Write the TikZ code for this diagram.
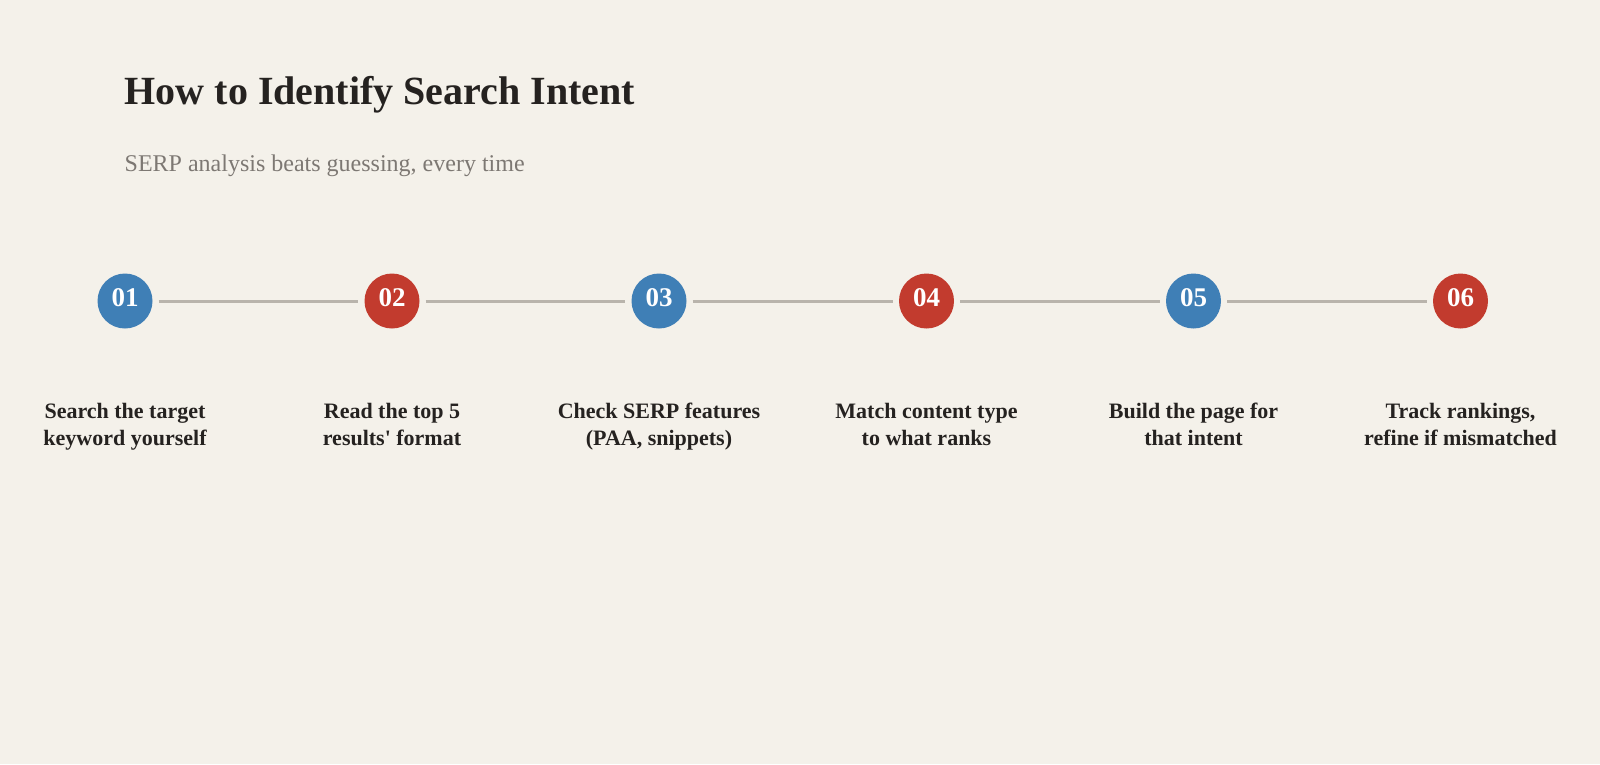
\documentclass[tikz,border=0pt]{standalone}
\usepackage{fontspec}
\setmainfont{Liberation Serif}
\definecolor{paper}{HTML}{F4F1EA}
\definecolor{ink}{HTML}{252220}
\definecolor{muted}{HTML}{7D7873}
\definecolor{stepblue}{HTML}{3F7FB6}
\definecolor{stepred}{HTML}{C23B2E}
\definecolor{rail}{HTML}{B9B4AC}
\tikzset{
  dot/.style={circle,minimum size=55pt,inner sep=0pt,text=white,
    text height=18pt,text depth=6.6pt,
    font=\fontsize{27}{27}\selectfont\bfseries},
  bluedot/.style={dot,fill=stepblue},
  reddot/.style={dot,fill=stepred},
  caption/.style={align=center,inner sep=0pt,anchor=base,text=ink,
    font=\fontsize{22}{27}\selectfont\bfseries},
  link/.style={draw=rail,line width=3pt,shorten <=6pt,shorten >=6pt}
}
\begin{document}
\begin{tikzpicture}[x=1pt,y=-1pt]
  \fill[paper] (0,0) rectangle (1600,764);
  \useasboundingbox (0,0) rectangle (1600,764);
  \node[anchor=base west,inner sep=0pt,text=ink,
    font=\fontsize{40}{40}\selectfont\bfseries] (title) at (124.5,104)
    {How to Identify Search Intent};
  \node[anchor=base west,inner sep=0pt,text=muted,
    font=\fontsize{24}{24}\selectfont] (subtitle) at (124.5,171.5)
    {SERP analysis beats guessing, every time};
  \draw
    (125,301) node[bluedot] (s1){01}
    (392,301) node[reddot] (s2){02}
    (659,301) node[bluedot] (s3){03}
    (926.5,301) node[reddot] (s4){04}
    (1193.5,301) node[bluedot] (s5){05}
    (1460.5,301) node[reddot] (s6){06};
  \begin{scope}[link]
    \draw (s1) to (s2);
    \draw (s2) to (s3);
    \draw (s3) to (s4);
    \draw (s4) to (s5);
    \draw (s5) to (s6);
  \end{scope}
  % captions: anchor sits on the second line's baseline
  \node[caption] (c1) at (125,445) {Search the target\\keyword yourself};
  \node[caption] (c2) at (392,445) {Read the top 5\\results\textquotesingle{} format};
  \node[caption] (c3) at (659,445) {Check SERP features\\(PAA, snippets)};
  \node[caption] (c4) at (926.5,445) {Match content type\\to what ranks};
  \node[caption] (c5) at (1193.5,445) {Build the page for\\that intent};
  \node[caption] (c6) at (1460.5,445) {Track rankings,\\refine if mismatched};
\end{tikzpicture}
\end{document}
